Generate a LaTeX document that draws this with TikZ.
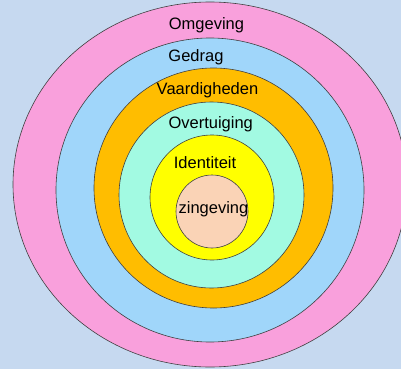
\documentclass[tikz,border=0pt]{standalone}
\usepackage{fontspec}
\setmainfont{Liberation Sans}
\definecolor{bg}{HTML}{C6D9F0}
\definecolor{ringpink}{HTML}{F9A0DC}
\definecolor{ringblue}{HTML}{A0D6FA}
\definecolor{ringorange}{HTML}{FFBD00}
\definecolor{ringcyan}{HTML}{A2FAE2}
\definecolor{ringyellow}{HTML}{FFFF00}
\definecolor{ringpeach}{HTML}{FAD3B6}
\begin{document}
\begin{tikzpicture}[x=1pt,y=-1pt,
  ring/.style={draw=black!75,line width=0.6pt},
  lbl/.style={anchor=base,inner sep=0pt,font=\fontsize{16.5}{18}\selectfont}]
\fill[bg] (0,0) rectangle (401,369);
\useasboundingbox (0,0) rectangle (401,369);
\begin{scope}
\clip (0,0) rectangle (401,369);
\draw[ring,fill=ringpink] (210,184.5) ellipse [x radius=197,y radius=182.5];
\draw[ring,fill=ringblue] (210,190) ellipse [x radius=154,y radius=152];
\draw[ring,fill=ringorange] (213.5,188) ellipse [x radius=119.5,y radius=120];
\draw[ring,fill=ringcyan] (211.5,195) ellipse [x radius=92.5,y radius=93];
\draw[ring,fill=ringyellow] (212,197.5) ellipse [x radius=62,y radius=62.5];
\draw[ring,fill=ringpeach] (212,211.5) ellipse [x radius=36,y radius=36.5];
\end{scope}
\node[lbl] (omg) at (206.5,30) {Omgeving};
\node[lbl] (ged) at (196,61) {Gedrag};
\node[lbl] (vaa) at (207.5,94) {Vaardigheden};
\node[lbl] (ove) at (210.7,128) {Overtuiging};
\node[lbl] (ide) at (205,168) {Identiteit};
\node[lbl] (zin) at (213.5,213) {zingeving};
\end{tikzpicture}
\end{document}
